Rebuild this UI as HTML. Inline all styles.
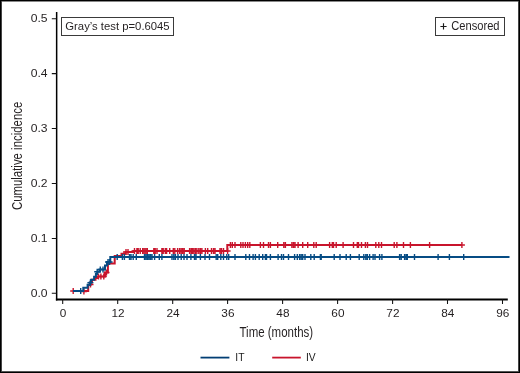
<!DOCTYPE html>
<html><head><meta charset="utf-8"><style>
html,body{margin:0;padding:0;background:#fff;}
#f{position:relative;width:520px;height:373px;overflow:hidden;background:#fff;}
svg{position:absolute;left:0;top:0;will-change:transform;}
.t{font-family:"Liberation Sans",sans-serif;font-size:11.8px;fill:#231f20;}
.b{font-family:"Liberation Sans",sans-serif;font-size:11.3px;fill:#231f20;}
.c{font-family:"Liberation Sans",sans-serif;font-size:14px;fill:#231f20;}
.l{font-family:"Liberation Sans",sans-serif;font-size:11.2px;fill:#1a1a1a;}
</style></head><body><div id="f">
<svg width="520" height="373" viewBox="0 0 520 373">
<path d="M56.65 12V300.5" stroke="#000" stroke-width="1.5" fill="none"/><path d="M55.9 299.5H507.8" stroke="#000" stroke-width="1.8" fill="none"/>
<path d="M51.8 293.3H56.6M51.8 238.4H56.6M51.8 183.5H56.6M51.8 128.5H56.6M51.8 73.6H56.6M51.8 18.7H56.6M62.7 299.3V303.9M117.7 299.3V303.9M172.7 299.3V303.9M227.6 299.3V303.9M282.6 299.3V303.9M337.6 299.3V303.9M392.6 299.3V303.9M447.5 299.3V303.9M502.5 299.3V303.9" stroke="#111" stroke-width="1.05" fill="none"/>
<text transform="translate(47.6 296.9) scale(1.03 1)" text-anchor="end" class="t">0.0</text>
<text transform="translate(47.6 242.0) scale(1.03 1)" text-anchor="end" class="t">0.1</text>
<text transform="translate(47.6 187.1) scale(1.03 1)" text-anchor="end" class="t">0.2</text>
<text transform="translate(47.6 132.1) scale(1.03 1)" text-anchor="end" class="t">0.3</text>
<text transform="translate(47.6 77.2) scale(1.03 1)" text-anchor="end" class="t">0.4</text>
<text transform="translate(47.6 22.3) scale(1.03 1)" text-anchor="end" class="t">0.5</text>
<text x="63.0" y="316.8" text-anchor="middle" class="t">0</text>
<text x="118.0" y="316.8" text-anchor="middle" class="t">12</text>
<text x="173.0" y="316.8" text-anchor="middle" class="t">24</text>
<text x="227.9" y="316.8" text-anchor="middle" class="t">36</text>
<text x="282.9" y="316.8" text-anchor="middle" class="t">48</text>
<text x="337.9" y="316.8" text-anchor="middle" class="t">60</text>
<text x="392.9" y="316.8" text-anchor="middle" class="t">72</text>
<text x="447.8" y="316.8" text-anchor="middle" class="t">84</text>
<text x="502.8" y="316.8" text-anchor="middle" class="t">96</text>
<path d="M73 291 L88.2 291 L88.2 285 L90.5 285 L90.5 282.6 L92 282.6 L92 279.7 L95.5 279.7 L95.5 278 L97.5 278 L97.5 276.5 L105 276.5 L105 272.5 L107.9 272.5 L107.9 263.5 L114.7 263.5 L114.7 256 L121.5 256 L121.5 253.8 L125.5 253.8 L125.5 252 L133.5 252 L133.5 251 L227.3 251 L227.3 245 L462 245" stroke="#c8142c" stroke-width="2" fill="none" stroke-linejoin="miter"/>
<path d="M70.2 291h6M73.2 287.9v6.2M80.9 291.5h6M83.9 288.4v6.2M87.5 284.5h6M90.5 281.4v6.2M95.5 276.5h6M98.5 273.4v6.2M97.9 276.5h6M100.9 273.4v6.2M100.8 276.5h6M103.8 273.4v6.2M103.5 272.5h6M106.5 269.4v6.2M123.0 252h6M126.0 248.9v6.2M125.0 252h6M128.0 248.9v6.2M131.5 251h6M134.5 247.9v6.2M133.9 251h6M136.9 247.9v6.2M135.2 251h6M138.2 247.9v6.2M137.2 251h6M140.2 247.9v6.2M139.7 251h6M142.7 247.9v6.2M141.2 251h6M144.2 247.9v6.2M142.8 251h6M145.8 247.9v6.2M144.3 251h6M147.3 247.9v6.2M150.8 251h6M153.8 247.9v6.2M152.2 251h6M155.2 247.9v6.2M154.0 251h6M157.0 247.9v6.2M158.9 251h6M161.9 247.9v6.2M160.2 251h6M163.2 247.9v6.2M162.3 251h6M165.3 247.9v6.2M163.6 251h6M166.6 247.9v6.2M166.7 251h6M169.7 247.9v6.2M170.3 251h6M173.3 247.9v6.2M171.8 251h6M174.8 247.9v6.2M174.6 251h6M177.6 247.9v6.2M176.6 251h6M179.6 247.9v6.2M178.2 251h6M181.2 247.9v6.2M179.7 251h6M182.7 247.9v6.2M181.2 251h6M184.2 247.9v6.2M186.6 251h6M189.6 247.9v6.2M188.2 251h6M191.2 247.9v6.2M189.3 251h6M192.3 247.9v6.2M190.8 251h6M193.8 247.9v6.2M192.4 251h6M195.4 247.9v6.2M193.9 251h6M196.9 247.9v6.2M195.8 251h6M198.8 247.9v6.2M197.4 251h6M200.4 247.9v6.2M198.9 251h6M201.9 247.9v6.2M202.4 251h6M205.4 247.9v6.2M204.7 251h6M207.7 247.9v6.2M208.5 251h6M211.5 247.9v6.2M210.5 251h6M213.5 247.9v6.2M212.0 251h6M215.0 247.9v6.2M217.0 251h6M220.0 247.9v6.2M218.5 251h6M221.5 247.9v6.2M220.5 251h6M223.5 247.9v6.2M224.6 251h6M227.6 247.9v6.2M227.4 245h6M230.4 241.9v6.2M229.3 245h6M232.3 241.9v6.2M232.0 245h6M235.0 241.9v6.2M237.8 245h6M240.8 241.9v6.2M240.0 245h6M243.0 241.9v6.2M242.4 245h6M245.4 241.9v6.2M244.7 245h6M247.7 241.9v6.2M246.8 245h6M249.8 241.9v6.2M257.4 245h6M260.4 241.9v6.2M260.5 245h6M263.5 241.9v6.2M265.5 245h6M268.5 241.9v6.2M267.4 245h6M270.4 241.9v6.2M274.7 245h6M277.7 241.9v6.2M280.8 245h6M283.8 241.9v6.2M282.4 245h6M285.4 241.9v6.2M288.9 245h6M291.9 241.9v6.2M290.5 245h6M293.5 241.9v6.2M292.0 245h6M295.0 241.9v6.2M295.1 245h6M298.1 241.9v6.2M299.7 245h6M302.7 241.9v6.2M304.7 245h6M307.7 241.9v6.2M310.8 245h6M313.8 241.9v6.2M313.2 245h6M316.2 241.9v6.2M326.6 245h6M329.6 241.9v6.2M329.3 245h6M332.3 241.9v6.2M330.5 245h6M333.5 241.9v6.2M333.2 245h6M336.2 241.9v6.2M340.1 245h6M343.1 241.9v6.2M350.5 245h6M353.5 241.9v6.2M354.3 245h6M357.3 241.9v6.2M355.5 245h6M358.5 241.9v6.2M358.5 245h6M361.5 241.9v6.2M362.4 245h6M365.4 241.9v6.2M364.5 245h6M367.5 241.9v6.2M372.8 245h6M375.8 241.9v6.2M375.8 245h6M378.8 241.9v6.2M378.5 245h6M381.5 241.9v6.2M391.2 245h6M394.2 241.9v6.2M393.9 245h6M396.9 241.9v6.2M400.5 245h6M403.5 241.9v6.2M407.4 245h6M410.4 241.9v6.2M426.6 245h6M429.6 241.9v6.2M458.9 245h6M461.9 241.9v6.2" stroke="#c8142c" stroke-width="1.4" fill="none"/>
<path d="M73 291 L83.3 291 L83.3 287.8 L87.6 287.8 L87.6 284.8 L89.7 284.8 L89.7 282.6 L91.1 282.6 L91.1 279.7 L94.1 279.7 L94.1 276.8 L95.9 276.8 L95.9 273.8 L97.3 273.8 L97.3 271.8 L99.5 271.8 L99.5 269.5 L105 269.5 L105 265.5 L107 265.5 L107 262 L110.3 262 L110.3 257 L509.5 257" stroke="#064c84" stroke-width="2" fill="none" stroke-linejoin="miter"/>
<path d="M77.7 291h6M80.7 287.9v6.2M87.4 282.6h6M90.4 279.5v6.2M94.2 271.8h6M97.2 268.7v6.2M97.3 269.5h6M100.3 266.4v6.2M100.0 269.5h6M103.0 266.4v6.2M105.0 262h6M108.0 258.9v6.2M106.6 262h6M109.6 258.9v6.2M114.2 257h6M117.2 253.9v6.2M119.4 257h6M122.4 253.9v6.2M121.4 257h6M124.4 253.9v6.2M126.5 257h6M129.5 253.9v6.2M128.0 257h6M131.0 253.9v6.2M130.2 257h6M133.2 253.9v6.2M133.3 257h6M136.3 253.9v6.2M141.5 257h6M144.5 253.9v6.2M143.0 257h6M146.0 253.9v6.2M144.5 257h6M147.5 253.9v6.2M146.0 257h6M149.0 253.9v6.2M147.5 257h6M150.5 253.9v6.2M149.0 257h6M152.0 253.9v6.2M151.6 257h6M154.6 253.9v6.2M156.3 257h6M159.3 253.9v6.2M158.9 257h6M161.9 253.9v6.2M169.0 257h6M172.0 253.9v6.2M170.8 257h6M173.8 253.9v6.2M172.4 257h6M175.4 253.9v6.2M175.0 257h6M178.0 253.9v6.2M178.2 257h6M181.2 253.9v6.2M181.0 257h6M184.0 253.9v6.2M184.0 257h6M187.0 253.9v6.2M187.9 257h6M190.9 253.9v6.2M191.5 257h6M194.5 253.9v6.2M193.0 257h6M196.0 253.9v6.2M197.4 257h6M200.4 253.9v6.2M202.0 257h6M205.0 253.9v6.2M206.5 257h6M209.5 253.9v6.2M213.2 257h6M216.2 253.9v6.2M214.7 257h6M217.7 253.9v6.2M217.8 257h6M220.8 253.9v6.2M220.5 257h6M223.5 253.9v6.2M223.8 257h6M226.8 253.9v6.2M225.7 257h6M228.7 253.9v6.2M232.0 257h6M235.0 253.9v6.2M242.8 257h6M245.8 253.9v6.2M246.5 257h6M249.5 253.9v6.2M250.1 257h6M253.1 253.9v6.2M252.4 257h6M255.4 253.9v6.2M256.2 257h6M259.2 253.9v6.2M259.7 257h6M262.7 253.9v6.2M262.4 257h6M265.4 253.9v6.2M263.5 257h6M266.5 253.9v6.2M267.4 257h6M270.4 253.9v6.2M275.1 257h6M278.1 253.9v6.2M278.5 257h6M281.5 253.9v6.2M280.5 257h6M283.5 253.9v6.2M285.5 257h6M288.5 253.9v6.2M291.6 257h6M294.6 253.9v6.2M294.3 257h6M297.3 253.9v6.2M296.6 257h6M299.6 253.9v6.2M298.2 257h6M301.2 253.9v6.2M299.7 257h6M302.7 253.9v6.2M302.0 257h6M305.0 253.9v6.2M307.8 257h6M310.8 253.9v6.2M311.2 257h6M314.2 253.9v6.2M317.4 257h6M320.4 253.9v6.2M318.2 257h6M321.2 253.9v6.2M331.2 257h6M334.2 253.9v6.2M337.0 257h6M340.0 253.9v6.2M343.2 257h6M346.2 253.9v6.2M347.4 257h6M350.4 253.9v6.2M356.2 257h6M359.2 253.9v6.2M360.8 257h6M363.8 253.9v6.2M362.8 257h6M365.8 253.9v6.2M364.3 257h6M367.3 253.9v6.2M366.6 257h6M369.6 253.9v6.2M370.1 257h6M373.1 253.9v6.2M372.0 257h6M375.0 253.9v6.2M376.6 257h6M379.6 253.9v6.2M378.9 257h6M381.9 253.9v6.2M396.6 257h6M399.6 253.9v6.2M398.2 257h6M401.2 253.9v6.2M401.6 257h6M404.6 253.9v6.2M403.2 257h6M406.2 253.9v6.2M404.3 257h6M407.3 253.9v6.2M411.5 257h6M414.5 253.9v6.2M435.1 257h6M438.1 253.9v6.2M446.4 257h6M449.4 253.9v6.2M460.7 257h6M463.7 253.9v6.2" stroke="#064c84" stroke-width="1.4" fill="none"/>
<rect x="61.5" y="17.5" width="112" height="18" fill="#fff" stroke="#3a3a3a" stroke-width="1"/>
<text x="65.3" y="29.6" class="b">Gray’s test p=0.6045</text>
<rect x="435.5" y="17.5" width="69" height="18" fill="#fff" stroke="#3a3a3a" stroke-width="1"/>
<path d="M440.4 26.5H446.6M443.5 23.2V29.6" stroke="#1a1a1a" stroke-width="1.15" fill="none"/>
<text transform="translate(451.2 29.7) scale(0.93 1)" class="b" style="font-size:12px">Censored</text>
<text transform="translate(22.3 155.9) rotate(-90) scale(0.815 1)" text-anchor="middle" class="c">Cumulative incidence</text>
<text transform="translate(276.3 336.6) scale(0.82 1)" text-anchor="middle" class="c">Time (months)</text>
<path d="M200.5 357.6H229.4" stroke="#023e74" stroke-width="1.8"/>
<path d="M272.2 357.6H300.8" stroke="#c8142c" stroke-width="1.8"/>
<text transform="translate(235.3 360.8) scale(0.92 1)" class="l">IT</text>
<text transform="translate(306.0 360.8) scale(0.92 1)" class="l">IV</text>
<rect x="0" y="0" width="520" height="1" fill="#000"/><rect x="0" y="1" width="520" height="1" fill="#888"/>
<rect x="0" y="372" width="520" height="1" fill="#000"/><rect x="0" y="371" width="520" height="1" fill="#555"/>
<rect x="0" y="0" width="1" height="373" fill="#000"/><rect x="1" y="1" width="1" height="371" fill="#444"/>
<rect x="519" y="0" width="1" height="373" fill="#000"/><rect x="518" y="1" width="1" height="371" fill="#444"/>
</svg></div></body></html>
